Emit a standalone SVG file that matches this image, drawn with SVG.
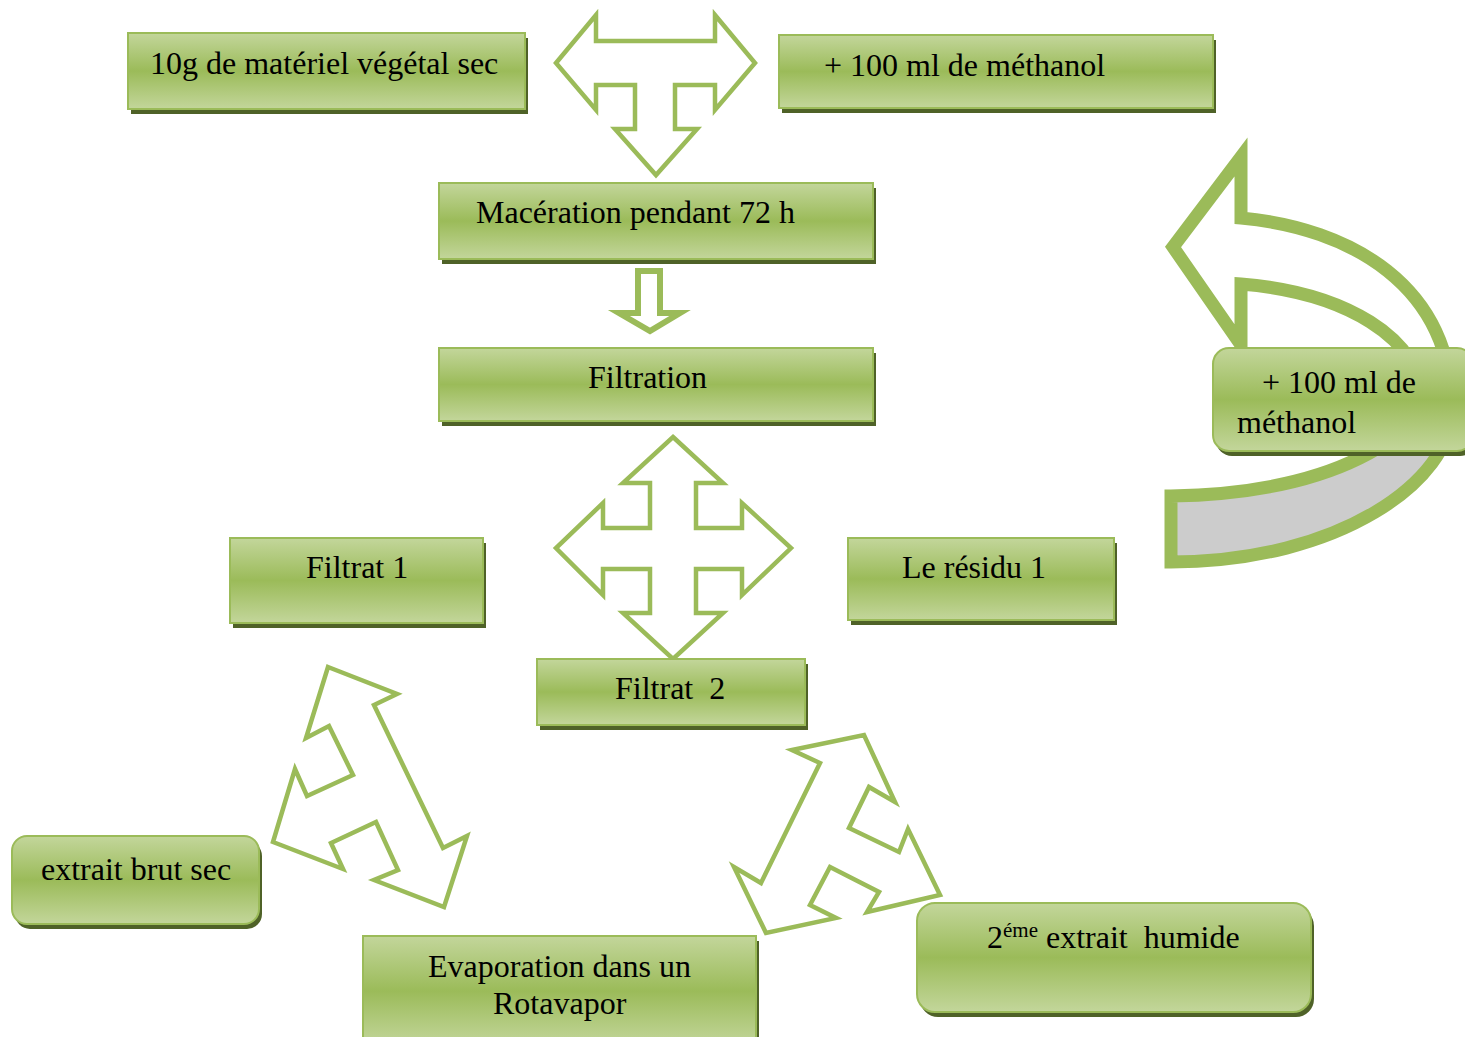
<svg xmlns="http://www.w3.org/2000/svg" width="1465" height="1037" viewBox="0 0 1465 1037">
<defs>
<linearGradient id="gr" x1="0" y1="0" x2="0" y2="1">
<stop offset="0" stop-color="#c3d69b"/>
<stop offset="0.5" stop-color="#9bbb59"/>
<stop offset="1" stop-color="#c3d69b"/>
</linearGradient>
<style>
.box{fill:url(#gr);stroke:#9bbb59;stroke-width:2}
.sh{fill:#4f6228}
.t{font-family:"Liberation Serif","Times New Roman",serif;font-size:32px;fill:#000}
.ar{fill:#fff;stroke:#9bbb59;stroke-width:4.5;stroke-linejoin:miter}
.cv{stroke:#9bbb59;stroke-width:13;stroke-linejoin:miter}
</style>
</defs>
<rect width="1465" height="1037" fill="#fff"/>

<g id="connectors">
<polygon class="ar" points="556,63 596,15 596,41 715,41 715,15 755,63 715,110 715,85 675,85 675,129 697,129 656,175 615,129 635,129 635,85 596,85 596,110"/>
<polygon class="ar" style="stroke-width:6" points="638,271 660,271 660,313 680,313 650,331 619,313 638,313"/>
<polygon class="ar" points="673,437 723,483 696,483 696,528 742,528 742,503 791,548 742,595 742,569 696,569 696,613 723,613 673,659 623,613 650,613 650,569 603,569 603,595 556,548 603,503 603,528 650,528 650,483 623,483"/>
<polygon class="ar" points="328,667 397,694 374,705 443,848 467,836 444,907 374,880 398,870 376,822 331,843 343,869 273,842 295,769 307,796 353,775 329,726 306,738"/>
<polygon class="ar" points="792,750 864,735 895,802 869,787 849,828 899,852 908,829 940,895 867,912 879,892 830,867 810,905 836,918 766,933 734,867 761,883 820,763"/>
<path class="cv" fill="#fff" d="M1173,247 L1241,157 L1241,218 C1350,228 1452,285 1452,410 L1425,410 C1425,335 1340,292 1241,284 L1241,345 Z"/>
<path class="cv" fill="#cccccc" d="M1452,410 C1452,480 1340,562 1171,562 L1171,496 C1280,494 1370,470 1425,410 Z"/>
</g>

<g id="n1">
<rect class="sh" x="131" y="38" width="397" height="76"/>
<rect class="box" x="128" y="33" width="397" height="76"/>
<text class="t" x="150" y="74">10g de matériel végétal sec</text>
</g>
<g id="n2">
<rect class="sh" x="782" y="40" width="434" height="73"/>
<rect class="box" x="779" y="35" width="434" height="73"/>
<text class="t" x="824" y="76">+ 100 ml de méthanol</text>
</g>
<g id="n3">
<rect class="sh" x="442" y="188" width="434" height="76"/>
<rect class="box" x="439" y="183" width="434" height="76"/>
<text class="t" x="476" y="223">Macération pendant 72 h</text>
</g>
<g id="n4">
<rect class="sh" x="442" y="353" width="434" height="73"/>
<rect class="box" x="439" y="348" width="434" height="73"/>
<text class="t" x="588" y="388">Filtration</text>
</g>
<g id="n5">
<rect class="sh" x="233" y="543" width="253" height="85"/>
<rect class="box" x="230" y="538" width="253" height="85"/>
<text class="t" x="306" y="578">Filtrat 1</text>
</g>
<g id="n6">
<rect class="sh" x="851" y="543" width="266" height="82"/>
<rect class="box" x="848" y="538" width="266" height="82"/>
<text class="t" x="902" y="578">Le résidu 1</text>
</g>
<g id="n7">
<rect class="sh" x="540" y="664" width="268" height="66"/>
<rect class="box" x="537" y="659" width="268" height="66"/>
<text class="t" x="615" y="699" xml:space="preserve">Filtrat  2</text>
</g>
<g id="n8">
<rect class="sh" x="15" y="841" width="247" height="88" rx="15"/>
<rect class="box" x="12" y="836" width="247" height="88" rx="15"/>
<text class="t" x="41" y="880">extrait brut sec</text>
</g>
<g id="n9">
<rect class="sh" x="366" y="941" width="393" height="110"/>
<rect class="box" x="363" y="936" width="393" height="110"/>
<text class="t" x="428" y="977">Evaporation dans un</text>
<text class="t" x="493" y="1014">Rotavapor</text>
</g>
<g id="n10">
<rect class="sh" x="920" y="908" width="394" height="109" rx="18"/>
<rect class="box" x="917" y="903" width="394" height="109" rx="18"/>
<text class="t" x="987" y="948" xml:space="preserve">2<tspan font-size="21" dy="-11">éme</tspan><tspan dy="11"> extrait  humide</tspan></text>
</g>
<g id="n11">
<rect class="sh" x="1216" y="353" width="260" height="103" rx="16"/>
<rect class="box" x="1213" y="348" width="260" height="103" rx="16"/>
<text class="t" x="1262" y="393">+ 100 ml de</text>
<text class="t" x="1237" y="433">méthanol</text>
</g>
</svg>
